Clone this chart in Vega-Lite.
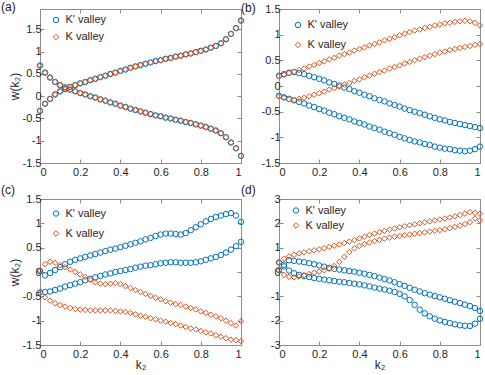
{
"$schema": "https://vega.github.io/schema/vega-lite/v6.json",
"padding": {"left": 0, "top": 0, "right": 0, "bottom": 0},
"background": "white",
"config": {
  "font": "Liberation Sans",
  "view": {"stroke": "#8c8c8c", "strokeWidth": 1},
  "axis": {"grid": false, "domain": false, "labelFont": "Liberation Sans", "labelFontSize": 11, "labelColor": "#262626", "tickColor": "#8c8c8c", "tickSize": -4, "labelPadding": 3, "titleFont": "Liberation Sans", "titleFontSize": 12, "titleFontWeight": "normal", "titleColor": "#262626"},
  "axisX": {"labelPadding": 7},
  "legend": {"title": null, "labelFont": "Liberation Sans", "labelFontSize": 11, "labelColor": "#262626", "symbolSize": 30, "symbolStrokeWidth": 1, "padding": 0, "labelOffset": 4},
  "title": {"font": "Liberation Sans", "fontSize": 12, "fontWeight": "normal", "color": "#1a1a1a"}
},
"datasets": {
"pa": [
{"v":"K'","k":0,"w":0.69},{"v":"K'","k":0.025,"w":0.53},{"v":"K'","k":0.05,"w":0.42},{"v":"K'","k":0.075,"w":0.32},{"v":"K'","k":0.1,"w":0.25},{"v":"K'","k":0.125,"w":0.2},{"v":"K'","k":0.15,"w":0.15},{"v":"K'","k":0.175,"w":0.11},{"v":"K'","k":0.2,"w":0.07},{"v":"K'","k":0.225,"w":0.04},{"v":"K'","k":0.25,"w":0},{"v":"K'","k":0.275,"w":-0.03},{"v":"K'","k":0.3,"w":-0.07},{"v":"K'","k":0.325,"w":-0.1},{"v":"K'","k":0.35,"w":-0.14},{"v":"K'","k":0.375,"w":-0.17},{"v":"K'","k":0.4,"w":-0.21},{"v":"K'","k":0.425,"w":-0.24},{"v":"K'","k":0.45,"w":-0.28},{"v":"K'","k":0.475,"w":-0.31},{"v":"K'","k":0.5,"w":-0.34},{"v":"K'","k":0.525,"w":-0.37},{"v":"K'","k":0.55,"w":-0.4},{"v":"K'","k":0.575,"w":-0.43},{"v":"K'","k":0.6,"w":-0.45},{"v":"K'","k":0.625,"w":-0.48},{"v":"K'","k":0.65,"w":-0.5},{"v":"K'","k":0.675,"w":-0.53},{"v":"K'","k":0.7,"w":-0.55},{"v":"K'","k":0.725,"w":-0.58},{"v":"K'","k":0.75,"w":-0.6},{"v":"K'","k":0.775,"w":-0.63},{"v":"K'","k":0.8,"w":-0.66},{"v":"K'","k":0.825,"w":-0.69},{"v":"K'","k":0.85,"w":-0.73},{"v":"K'","k":0.875,"w":-0.77},{"v":"K'","k":0.9,"w":-0.83},{"v":"K'","k":0.925,"w":-0.92},{"v":"K'","k":0.95,"w":-1.04},{"v":"K'","k":0.975,"w":-1.17},{"v":"K'","k":1,"w":-1.34},
{"v":"K'","k":0,"w":-0.33},{"v":"K'","k":0.025,"w":-0.17},{"v":"K'","k":0.05,"w":-0.06},{"v":"K'","k":0.075,"w":0.04},{"v":"K'","k":0.1,"w":0.11},{"v":"K'","k":0.125,"w":0.16},{"v":"K'","k":0.15,"w":0.21},{"v":"K'","k":0.175,"w":0.25},{"v":"K'","k":0.2,"w":0.29},{"v":"K'","k":0.225,"w":0.32},{"v":"K'","k":0.25,"w":0.36},{"v":"K'","k":0.275,"w":0.39},{"v":"K'","k":0.3,"w":0.43},{"v":"K'","k":0.325,"w":0.46},{"v":"K'","k":0.35,"w":0.5},{"v":"K'","k":0.375,"w":0.53},{"v":"K'","k":0.4,"w":0.57},{"v":"K'","k":0.425,"w":0.6},{"v":"K'","k":0.45,"w":0.64},{"v":"K'","k":0.475,"w":0.67},{"v":"K'","k":0.5,"w":0.7},{"v":"K'","k":0.525,"w":0.73},{"v":"K'","k":0.55,"w":0.76},{"v":"K'","k":0.575,"w":0.79},{"v":"K'","k":0.6,"w":0.81},{"v":"K'","k":0.625,"w":0.84},{"v":"K'","k":0.65,"w":0.86},{"v":"K'","k":0.675,"w":0.89},{"v":"K'","k":0.7,"w":0.91},{"v":"K'","k":0.725,"w":0.94},{"v":"K'","k":0.75,"w":0.96},{"v":"K'","k":0.775,"w":0.99},{"v":"K'","k":0.8,"w":1.02},{"v":"K'","k":0.825,"w":1.05},{"v":"K'","k":0.85,"w":1.09},{"v":"K'","k":0.875,"w":1.13},{"v":"K'","k":0.9,"w":1.19},{"v":"K'","k":0.925,"w":1.28},{"v":"K'","k":0.95,"w":1.4},{"v":"K'","k":0.975,"w":1.53},{"v":"K'","k":1,"w":1.7},
{"v":"K","k":0,"w":0.69},{"v":"K","k":0.025,"w":0.53},{"v":"K","k":0.05,"w":0.42},{"v":"K","k":0.075,"w":0.32},{"v":"K","k":0.1,"w":0.25},{"v":"K","k":0.125,"w":0.2},{"v":"K","k":0.15,"w":0.15},{"v":"K","k":0.175,"w":0.11},{"v":"K","k":0.2,"w":0.07},{"v":"K","k":0.225,"w":0.04},{"v":"K","k":0.25,"w":0},{"v":"K","k":0.275,"w":-0.03},{"v":"K","k":0.3,"w":-0.07},{"v":"K","k":0.325,"w":-0.1},{"v":"K","k":0.35,"w":-0.14},{"v":"K","k":0.375,"w":-0.17},{"v":"K","k":0.4,"w":-0.21},{"v":"K","k":0.425,"w":-0.24},{"v":"K","k":0.45,"w":-0.28},{"v":"K","k":0.475,"w":-0.31},{"v":"K","k":0.5,"w":-0.34},{"v":"K","k":0.525,"w":-0.37},{"v":"K","k":0.55,"w":-0.4},{"v":"K","k":0.575,"w":-0.43},{"v":"K","k":0.6,"w":-0.45},{"v":"K","k":0.625,"w":-0.48},{"v":"K","k":0.65,"w":-0.5},{"v":"K","k":0.675,"w":-0.53},{"v":"K","k":0.7,"w":-0.55},{"v":"K","k":0.725,"w":-0.58},{"v":"K","k":0.75,"w":-0.6},{"v":"K","k":0.775,"w":-0.63},{"v":"K","k":0.8,"w":-0.66},{"v":"K","k":0.825,"w":-0.69},{"v":"K","k":0.85,"w":-0.73},{"v":"K","k":0.875,"w":-0.77},{"v":"K","k":0.9,"w":-0.83},{"v":"K","k":0.925,"w":-0.92},{"v":"K","k":0.95,"w":-1.04},{"v":"K","k":0.975,"w":-1.17},{"v":"K","k":1,"w":-1.34},
{"v":"K","k":0,"w":-0.33},{"v":"K","k":0.025,"w":-0.17},{"v":"K","k":0.05,"w":-0.06},{"v":"K","k":0.075,"w":0.04},{"v":"K","k":0.1,"w":0.11},{"v":"K","k":0.125,"w":0.16},{"v":"K","k":0.15,"w":0.21},{"v":"K","k":0.175,"w":0.25},{"v":"K","k":0.2,"w":0.29},{"v":"K","k":0.225,"w":0.32},{"v":"K","k":0.25,"w":0.36},{"v":"K","k":0.275,"w":0.39},{"v":"K","k":0.3,"w":0.43},{"v":"K","k":0.325,"w":0.46},{"v":"K","k":0.35,"w":0.5},{"v":"K","k":0.375,"w":0.53},{"v":"K","k":0.4,"w":0.57},{"v":"K","k":0.425,"w":0.6},{"v":"K","k":0.45,"w":0.64},{"v":"K","k":0.475,"w":0.67},{"v":"K","k":0.5,"w":0.7},{"v":"K","k":0.525,"w":0.73},{"v":"K","k":0.55,"w":0.76},{"v":"K","k":0.575,"w":0.79},{"v":"K","k":0.6,"w":0.81},{"v":"K","k":0.625,"w":0.84},{"v":"K","k":0.65,"w":0.86},{"v":"K","k":0.675,"w":0.89},{"v":"K","k":0.7,"w":0.91},{"v":"K","k":0.725,"w":0.94},{"v":"K","k":0.75,"w":0.96},{"v":"K","k":0.775,"w":0.99},{"v":"K","k":0.8,"w":1.02},{"v":"K","k":0.825,"w":1.05},{"v":"K","k":0.85,"w":1.09},{"v":"K","k":0.875,"w":1.13},{"v":"K","k":0.9,"w":1.19},{"v":"K","k":0.925,"w":1.28},{"v":"K","k":0.95,"w":1.4},{"v":"K","k":0.975,"w":1.53},{"v":"K","k":1,"w":1.7}
],
"pb": [
{"v":"K'","k":0,"w":0.2},{"v":"K'","k":0.025,"w":0.23},{"v":"K'","k":0.05,"w":0.26},{"v":"K'","k":0.075,"w":0.27},{"v":"K'","k":0.1,"w":0.25},{"v":"K'","k":0.125,"w":0.23},{"v":"K'","k":0.15,"w":0.2},{"v":"K'","k":0.175,"w":0.17},{"v":"K'","k":0.2,"w":0.14},{"v":"K'","k":0.225,"w":0.11},{"v":"K'","k":0.25,"w":0.07},{"v":"K'","k":0.275,"w":0.04},{"v":"K'","k":0.3,"w":0.01},{"v":"K'","k":0.325,"w":-0.03},{"v":"K'","k":0.35,"w":-0.06},{"v":"K'","k":0.375,"w":-0.1},{"v":"K'","k":0.4,"w":-0.13},{"v":"K'","k":0.425,"w":-0.17},{"v":"K'","k":0.45,"w":-0.2},{"v":"K'","k":0.475,"w":-0.24},{"v":"K'","k":0.5,"w":-0.27},{"v":"K'","k":0.525,"w":-0.3},{"v":"K'","k":0.55,"w":-0.34},{"v":"K'","k":0.575,"w":-0.37},{"v":"K'","k":0.6,"w":-0.4},{"v":"K'","k":0.625,"w":-0.44},{"v":"K'","k":0.65,"w":-0.47},{"v":"K'","k":0.675,"w":-0.5},{"v":"K'","k":0.7,"w":-0.53},{"v":"K'","k":0.725,"w":-0.56},{"v":"K'","k":0.75,"w":-0.59},{"v":"K'","k":0.775,"w":-0.62},{"v":"K'","k":0.8,"w":-0.65},{"v":"K'","k":0.825,"w":-0.67},{"v":"K'","k":0.85,"w":-0.7},{"v":"K'","k":0.875,"w":-0.72},{"v":"K'","k":0.9,"w":-0.74},{"v":"K'","k":0.925,"w":-0.76},{"v":"K'","k":0.95,"w":-0.78},{"v":"K'","k":0.975,"w":-0.8},{"v":"K'","k":1,"w":-0.82},
{"v":"K'","k":0,"w":-0.19},{"v":"K'","k":0.025,"w":-0.22},{"v":"K'","k":0.05,"w":-0.25},{"v":"K'","k":0.075,"w":-0.28},{"v":"K'","k":0.1,"w":-0.31},{"v":"K'","k":0.125,"w":-0.34},{"v":"K'","k":0.15,"w":-0.38},{"v":"K'","k":0.175,"w":-0.41},{"v":"K'","k":0.2,"w":-0.45},{"v":"K'","k":0.225,"w":-0.48},{"v":"K'","k":0.25,"w":-0.52},{"v":"K'","k":0.275,"w":-0.55},{"v":"K'","k":0.3,"w":-0.59},{"v":"K'","k":0.325,"w":-0.62},{"v":"K'","k":0.35,"w":-0.65},{"v":"K'","k":0.375,"w":-0.69},{"v":"K'","k":0.4,"w":-0.72},{"v":"K'","k":0.425,"w":-0.75},{"v":"K'","k":0.45,"w":-0.79},{"v":"K'","k":0.475,"w":-0.82},{"v":"K'","k":0.5,"w":-0.85},{"v":"K'","k":0.525,"w":-0.89},{"v":"K'","k":0.55,"w":-0.92},{"v":"K'","k":0.575,"w":-0.95},{"v":"K'","k":0.6,"w":-0.99},{"v":"K'","k":0.625,"w":-1.02},{"v":"K'","k":0.65,"w":-1.05},{"v":"K'","k":0.675,"w":-1.08},{"v":"K'","k":0.7,"w":-1.1},{"v":"K'","k":0.725,"w":-1.13},{"v":"K'","k":0.75,"w":-1.15},{"v":"K'","k":0.775,"w":-1.18},{"v":"K'","k":0.8,"w":-1.2},{"v":"K'","k":0.825,"w":-1.22},{"v":"K'","k":0.85,"w":-1.23},{"v":"K'","k":0.875,"w":-1.25},{"v":"K'","k":0.9,"w":-1.26},{"v":"K'","k":0.925,"w":-1.27},{"v":"K'","k":0.95,"w":-1.26},{"v":"K'","k":0.975,"w":-1.23},{"v":"K'","k":1,"w":-1.18},
{"v":"K","k":0,"w":0.19},{"v":"K","k":0.025,"w":0.22},{"v":"K","k":0.05,"w":0.25},{"v":"K","k":0.075,"w":0.28},{"v":"K","k":0.1,"w":0.31},{"v":"K","k":0.125,"w":0.34},{"v":"K","k":0.15,"w":0.38},{"v":"K","k":0.175,"w":0.41},{"v":"K","k":0.2,"w":0.45},{"v":"K","k":0.225,"w":0.48},{"v":"K","k":0.25,"w":0.52},{"v":"K","k":0.275,"w":0.55},{"v":"K","k":0.3,"w":0.59},{"v":"K","k":0.325,"w":0.62},{"v":"K","k":0.35,"w":0.65},{"v":"K","k":0.375,"w":0.69},{"v":"K","k":0.4,"w":0.72},{"v":"K","k":0.425,"w":0.75},{"v":"K","k":0.45,"w":0.79},{"v":"K","k":0.475,"w":0.82},{"v":"K","k":0.5,"w":0.85},{"v":"K","k":0.525,"w":0.89},{"v":"K","k":0.55,"w":0.92},{"v":"K","k":0.575,"w":0.95},{"v":"K","k":0.6,"w":0.99},{"v":"K","k":0.625,"w":1.02},{"v":"K","k":0.65,"w":1.05},{"v":"K","k":0.675,"w":1.08},{"v":"K","k":0.7,"w":1.1},{"v":"K","k":0.725,"w":1.13},{"v":"K","k":0.75,"w":1.15},{"v":"K","k":0.775,"w":1.18},{"v":"K","k":0.8,"w":1.2},{"v":"K","k":0.825,"w":1.22},{"v":"K","k":0.85,"w":1.23},{"v":"K","k":0.875,"w":1.25},{"v":"K","k":0.9,"w":1.26},{"v":"K","k":0.925,"w":1.27},{"v":"K","k":0.95,"w":1.26},{"v":"K","k":0.975,"w":1.23},{"v":"K","k":1,"w":1.18},
{"v":"K","k":0,"w":-0.2},{"v":"K","k":0.025,"w":-0.23},{"v":"K","k":0.05,"w":-0.26},{"v":"K","k":0.075,"w":-0.27},{"v":"K","k":0.1,"w":-0.25},{"v":"K","k":0.125,"w":-0.23},{"v":"K","k":0.15,"w":-0.2},{"v":"K","k":0.175,"w":-0.17},{"v":"K","k":0.2,"w":-0.14},{"v":"K","k":0.225,"w":-0.11},{"v":"K","k":0.25,"w":-0.07},{"v":"K","k":0.275,"w":-0.04},{"v":"K","k":0.3,"w":-0.01},{"v":"K","k":0.325,"w":0.03},{"v":"K","k":0.35,"w":0.06},{"v":"K","k":0.375,"w":0.1},{"v":"K","k":0.4,"w":0.13},{"v":"K","k":0.425,"w":0.17},{"v":"K","k":0.45,"w":0.2},{"v":"K","k":0.475,"w":0.24},{"v":"K","k":0.5,"w":0.27},{"v":"K","k":0.525,"w":0.3},{"v":"K","k":0.55,"w":0.34},{"v":"K","k":0.575,"w":0.37},{"v":"K","k":0.6,"w":0.4},{"v":"K","k":0.625,"w":0.44},{"v":"K","k":0.65,"w":0.47},{"v":"K","k":0.675,"w":0.5},{"v":"K","k":0.7,"w":0.53},{"v":"K","k":0.725,"w":0.56},{"v":"K","k":0.75,"w":0.59},{"v":"K","k":0.775,"w":0.62},{"v":"K","k":0.8,"w":0.65},{"v":"K","k":0.825,"w":0.67},{"v":"K","k":0.85,"w":0.7},{"v":"K","k":0.875,"w":0.72},{"v":"K","k":0.9,"w":0.74},{"v":"K","k":0.925,"w":0.76},{"v":"K","k":0.95,"w":0.78},{"v":"K","k":0.975,"w":0.8},{"v":"K","k":1,"w":0.82}
],
"pc": [
{"v":"K'","k":0,"w":0.02},{"v":"K'","k":0.025,"w":-0.07},{"v":"K'","k":0.05,"w":-0.02},{"v":"K'","k":0.075,"w":0.04},{"v":"K'","k":0.1,"w":0.1},{"v":"K'","k":0.125,"w":0.16},{"v":"K'","k":0.15,"w":0.21},{"v":"K'","k":0.175,"w":0.25},{"v":"K'","k":0.2,"w":0.28},{"v":"K'","k":0.225,"w":0.31},{"v":"K'","k":0.25,"w":0.34},{"v":"K'","k":0.275,"w":0.37},{"v":"K'","k":0.3,"w":0.4},{"v":"K'","k":0.325,"w":0.43},{"v":"K'","k":0.35,"w":0.46},{"v":"K'","k":0.375,"w":0.48},{"v":"K'","k":0.4,"w":0.51},{"v":"K'","k":0.425,"w":0.54},{"v":"K'","k":0.45,"w":0.57},{"v":"K'","k":0.475,"w":0.6},{"v":"K'","k":0.5,"w":0.63},{"v":"K'","k":0.525,"w":0.67},{"v":"K'","k":0.55,"w":0.7},{"v":"K'","k":0.575,"w":0.74},{"v":"K'","k":0.6,"w":0.77},{"v":"K'","k":0.625,"w":0.79},{"v":"K'","k":0.65,"w":0.79},{"v":"K'","k":0.675,"w":0.78},{"v":"K'","k":0.7,"w":0.77},{"v":"K'","k":0.725,"w":0.8},{"v":"K'","k":0.75,"w":0.86},{"v":"K'","k":0.775,"w":0.92},{"v":"K'","k":0.8,"w":0.98},{"v":"K'","k":0.825,"w":1.04},{"v":"K'","k":0.85,"w":1.09},{"v":"K'","k":0.875,"w":1.13},{"v":"K'","k":0.9,"w":1.16},{"v":"K'","k":0.925,"w":1.19},{"v":"K'","k":0.95,"w":1.21},{"v":"K'","k":0.975,"w":1.16},{"v":"K'","k":1,"w":1.03},
{"v":"K'","k":0,"w":-0.42},{"v":"K'","k":0.025,"w":-0.41},{"v":"K'","k":0.05,"w":-0.4},{"v":"K'","k":0.075,"w":-0.37},{"v":"K'","k":0.1,"w":-0.34},{"v":"K'","k":0.125,"w":-0.3},{"v":"K'","k":0.15,"w":-0.27},{"v":"K'","k":0.175,"w":-0.24},{"v":"K'","k":0.2,"w":-0.21},{"v":"K'","k":0.225,"w":-0.17},{"v":"K'","k":0.25,"w":-0.14},{"v":"K'","k":0.275,"w":-0.11},{"v":"K'","k":0.3,"w":-0.08},{"v":"K'","k":0.325,"w":-0.05},{"v":"K'","k":0.35,"w":-0.03},{"v":"K'","k":0.375,"w":0},{"v":"K'","k":0.4,"w":0.02},{"v":"K'","k":0.425,"w":0.04},{"v":"K'","k":0.45,"w":0.06},{"v":"K'","k":0.475,"w":0.09},{"v":"K'","k":0.5,"w":0.11},{"v":"K'","k":0.525,"w":0.13},{"v":"K'","k":0.55,"w":0.14},{"v":"K'","k":0.575,"w":0.16},{"v":"K'","k":0.6,"w":0.18},{"v":"K'","k":0.625,"w":0.19},{"v":"K'","k":0.65,"w":0.2},{"v":"K'","k":0.675,"w":0.2},{"v":"K'","k":0.7,"w":0.19},{"v":"K'","k":0.725,"w":0.19},{"v":"K'","k":0.75,"w":0.19},{"v":"K'","k":0.775,"w":0.2},{"v":"K'","k":0.8,"w":0.22},{"v":"K'","k":0.825,"w":0.25},{"v":"K'","k":0.85,"w":0.28},{"v":"K'","k":0.875,"w":0.31},{"v":"K'","k":0.9,"w":0.35},{"v":"K'","k":0.925,"w":0.4},{"v":"K'","k":0.95,"w":0.46},{"v":"K'","k":0.975,"w":0.53},{"v":"K'","k":1,"w":0.62},
{"v":"K","k":0,"w":0.03},{"v":"K","k":0.025,"w":0.16},{"v":"K","k":0.05,"w":0.21},{"v":"K","k":0.075,"w":0.19},{"v":"K","k":0.1,"w":0.14},{"v":"K","k":0.125,"w":0.1},{"v":"K","k":0.15,"w":0.05},{"v":"K","k":0.175,"w":0},{"v":"K","k":0.2,"w":-0.05},{"v":"K","k":0.225,"w":-0.1},{"v":"K","k":0.25,"w":-0.16},{"v":"K","k":0.275,"w":-0.21},{"v":"K","k":0.3,"w":-0.24},{"v":"K","k":0.325,"w":-0.25},{"v":"K","k":0.35,"w":-0.24},{"v":"K","k":0.375,"w":-0.23},{"v":"K","k":0.4,"w":-0.25},{"v":"K","k":0.425,"w":-0.29},{"v":"K","k":0.45,"w":-0.33},{"v":"K","k":0.475,"w":-0.37},{"v":"K","k":0.5,"w":-0.41},{"v":"K","k":0.525,"w":-0.45},{"v":"K","k":0.55,"w":-0.49},{"v":"K","k":0.575,"w":-0.53},{"v":"K","k":0.6,"w":-0.56},{"v":"K","k":0.625,"w":-0.6},{"v":"K","k":0.65,"w":-0.63},{"v":"K","k":0.675,"w":-0.66},{"v":"K","k":0.7,"w":-0.68},{"v":"K","k":0.725,"w":-0.71},{"v":"K","k":0.75,"w":-0.74},{"v":"K","k":0.775,"w":-0.77},{"v":"K","k":0.8,"w":-0.81},{"v":"K","k":0.825,"w":-0.84},{"v":"K","k":0.85,"w":-0.88},{"v":"K","k":0.875,"w":-0.91},{"v":"K","k":0.9,"w":-0.95},{"v":"K","k":0.925,"w":-1},{"v":"K","k":0.95,"w":-1.05},{"v":"K","k":0.975,"w":-1.1},{"v":"K","k":1,"w":-1.01},
{"v":"K","k":0,"w":-0.43},{"v":"K","k":0.025,"w":-0.52},{"v":"K","k":0.05,"w":-0.59},{"v":"K","k":0.075,"w":-0.64},{"v":"K","k":0.1,"w":-0.68},{"v":"K","k":0.125,"w":-0.71},{"v":"K","k":0.15,"w":-0.74},{"v":"K","k":0.175,"w":-0.76},{"v":"K","k":0.2,"w":-0.77},{"v":"K","k":0.225,"w":-0.78},{"v":"K","k":0.25,"w":-0.79},{"v":"K","k":0.275,"w":-0.79},{"v":"K","k":0.3,"w":-0.79},{"v":"K","k":0.325,"w":-0.79},{"v":"K","k":0.35,"w":-0.79},{"v":"K","k":0.375,"w":-0.8},{"v":"K","k":0.4,"w":-0.81},{"v":"K","k":0.425,"w":-0.82},{"v":"K","k":0.45,"w":-0.84},{"v":"K","k":0.475,"w":-0.87},{"v":"K","k":0.5,"w":-0.9},{"v":"K","k":0.525,"w":-0.92},{"v":"K","k":0.55,"w":-0.95},{"v":"K","k":0.575,"w":-0.97},{"v":"K","k":0.6,"w":-1},{"v":"K","k":0.625,"w":-1.02},{"v":"K","k":0.65,"w":-1.05},{"v":"K","k":0.675,"w":-1.07},{"v":"K","k":0.7,"w":-1.1},{"v":"K","k":0.725,"w":-1.13},{"v":"K","k":0.75,"w":-1.16},{"v":"K","k":0.775,"w":-1.18},{"v":"K","k":0.8,"w":-1.21},{"v":"K","k":0.825,"w":-1.24},{"v":"K","k":0.85,"w":-1.26},{"v":"K","k":0.875,"w":-1.3},{"v":"K","k":0.9,"w":-1.33},{"v":"K","k":0.925,"w":-1.36},{"v":"K","k":0.95,"w":-1.39},{"v":"K","k":0.975,"w":-1.4},{"v":"K","k":1,"w":-1.42}
],
"pd": [
{"v":"K'","k":0,"w":0.08},{"v":"K'","k":0.025,"w":0.3},{"v":"K'","k":0.05,"w":0.48},{"v":"K'","k":0.075,"w":0.46},{"v":"K'","k":0.1,"w":0.43},{"v":"K'","k":0.125,"w":0.4},{"v":"K'","k":0.15,"w":0.36},{"v":"K'","k":0.175,"w":0.32},{"v":"K'","k":0.2,"w":0.27},{"v":"K'","k":0.225,"w":0.22},{"v":"K'","k":0.25,"w":0.17},{"v":"K'","k":0.275,"w":0.13},{"v":"K'","k":0.3,"w":0.1},{"v":"K'","k":0.325,"w":0.07},{"v":"K'","k":0.35,"w":0.04},{"v":"K'","k":0.375,"w":0.01},{"v":"K'","k":0.4,"w":-0.03},{"v":"K'","k":0.425,"w":-0.07},{"v":"K'","k":0.45,"w":-0.12},{"v":"K'","k":0.475,"w":-0.17},{"v":"K'","k":0.5,"w":-0.23},{"v":"K'","k":0.525,"w":-0.29},{"v":"K'","k":0.55,"w":-0.35},{"v":"K'","k":0.575,"w":-0.42},{"v":"K'","k":0.6,"w":-0.5},{"v":"K'","k":0.625,"w":-0.57},{"v":"K'","k":0.65,"w":-0.65},{"v":"K'","k":0.675,"w":-0.73},{"v":"K'","k":0.7,"w":-0.8},{"v":"K'","k":0.725,"w":-0.87},{"v":"K'","k":0.75,"w":-0.93},{"v":"K'","k":0.775,"w":-0.99},{"v":"K'","k":0.8,"w":-1.04},{"v":"K'","k":0.825,"w":-1.1},{"v":"K'","k":0.85,"w":-1.16},{"v":"K'","k":0.875,"w":-1.22},{"v":"K'","k":0.9,"w":-1.28},{"v":"K'","k":0.925,"w":-1.34},{"v":"K'","k":0.95,"w":-1.4},{"v":"K'","k":0.975,"w":-1.48},{"v":"K'","k":1,"w":-1.6},
{"v":"K'","k":0,"w":0.39},{"v":"K'","k":0.025,"w":0.23},{"v":"K'","k":0.05,"w":0.06},{"v":"K'","k":0.075,"w":-0.05},{"v":"K'","k":0.1,"w":-0.12},{"v":"K'","k":0.125,"w":-0.17},{"v":"K'","k":0.15,"w":-0.21},{"v":"K'","k":0.175,"w":-0.25},{"v":"K'","k":0.2,"w":-0.28},{"v":"K'","k":0.225,"w":-0.31},{"v":"K'","k":0.25,"w":-0.34},{"v":"K'","k":0.275,"w":-0.37},{"v":"K'","k":0.3,"w":-0.4},{"v":"K'","k":0.325,"w":-0.42},{"v":"K'","k":0.35,"w":-0.45},{"v":"K'","k":0.375,"w":-0.48},{"v":"K'","k":0.4,"w":-0.51},{"v":"K'","k":0.425,"w":-0.55},{"v":"K'","k":0.45,"w":-0.59},{"v":"K'","k":0.475,"w":-0.64},{"v":"K'","k":0.5,"w":-0.68},{"v":"K'","k":0.525,"w":-0.72},{"v":"K'","k":0.55,"w":-0.77},{"v":"K'","k":0.575,"w":-0.82},{"v":"K'","k":0.6,"w":-0.9},{"v":"K'","k":0.625,"w":-1},{"v":"K'","k":0.65,"w":-1.15},{"v":"K'","k":0.675,"w":-1.35},{"v":"K'","k":0.7,"w":-1.55},{"v":"K'","k":0.725,"w":-1.7},{"v":"K'","k":0.75,"w":-1.82},{"v":"K'","k":0.775,"w":-1.92},{"v":"K'","k":0.8,"w":-1.99},{"v":"K'","k":0.825,"w":-2.05},{"v":"K'","k":0.85,"w":-2.1},{"v":"K'","k":0.875,"w":-2.15},{"v":"K'","k":0.9,"w":-2.19},{"v":"K'","k":0.925,"w":-2.21},{"v":"K'","k":0.95,"w":-2.22},{"v":"K'","k":0.975,"w":-2.12},{"v":"K'","k":1,"w":-1.92},
{"v":"K","k":0,"w":0.39},{"v":"K","k":0.025,"w":0.55},{"v":"K","k":0.05,"w":0.64},{"v":"K","k":0.075,"w":0.71},{"v":"K","k":0.1,"w":0.77},{"v":"K","k":0.125,"w":0.81},{"v":"K","k":0.15,"w":0.85},{"v":"K","k":0.175,"w":0.89},{"v":"K","k":0.2,"w":0.93},{"v":"K","k":0.225,"w":0.98},{"v":"K","k":0.25,"w":1.03},{"v":"K","k":0.275,"w":1.08},{"v":"K","k":0.3,"w":1.13},{"v":"K","k":0.325,"w":1.19},{"v":"K","k":0.35,"w":1.25},{"v":"K","k":0.375,"w":1.31},{"v":"K","k":0.4,"w":1.38},{"v":"K","k":0.425,"w":1.45},{"v":"K","k":0.45,"w":1.52},{"v":"K","k":0.475,"w":1.58},{"v":"K","k":0.5,"w":1.64},{"v":"K","k":0.525,"w":1.69},{"v":"K","k":0.55,"w":1.74},{"v":"K","k":0.575,"w":1.79},{"v":"K","k":0.6,"w":1.84},{"v":"K","k":0.625,"w":1.88},{"v":"K","k":0.65,"w":1.92},{"v":"K","k":0.675,"w":1.96},{"v":"K","k":0.7,"w":2},{"v":"K","k":0.725,"w":2.04},{"v":"K","k":0.75,"w":2.08},{"v":"K","k":0.775,"w":2.12},{"v":"K","k":0.8,"w":2.16},{"v":"K","k":0.825,"w":2.2},{"v":"K","k":0.85,"w":2.24},{"v":"K","k":0.875,"w":2.29},{"v":"K","k":0.9,"w":2.34},{"v":"K","k":0.925,"w":2.4},{"v":"K","k":0.95,"w":2.46},{"v":"K","k":0.975,"w":2.43},{"v":"K","k":1,"w":2.4},
{"v":"K","k":0,"w":0.08},{"v":"K","k":0.025,"w":-0.12},{"v":"K","k":0.05,"w":-0.2},{"v":"K","k":0.075,"w":-0.22},{"v":"K","k":0.1,"w":-0.18},{"v":"K","k":0.125,"w":-0.13},{"v":"K","k":0.15,"w":-0.08},{"v":"K","k":0.175,"w":-0.03},{"v":"K","k":0.2,"w":0.02},{"v":"K","k":0.225,"w":0.07},{"v":"K","k":0.25,"w":0.13},{"v":"K","k":0.275,"w":0.25},{"v":"K","k":0.3,"w":0.42},{"v":"K","k":0.325,"w":0.62},{"v":"K","k":0.35,"w":0.82},{"v":"K","k":0.375,"w":0.97},{"v":"K","k":0.4,"w":1.07},{"v":"K","k":0.425,"w":1.15},{"v":"K","k":0.45,"w":1.21},{"v":"K","k":0.475,"w":1.27},{"v":"K","k":0.5,"w":1.32},{"v":"K","k":0.525,"w":1.37},{"v":"K","k":0.55,"w":1.41},{"v":"K","k":0.575,"w":1.45},{"v":"K","k":0.6,"w":1.48},{"v":"K","k":0.625,"w":1.51},{"v":"K","k":0.65,"w":1.54},{"v":"K","k":0.675,"w":1.57},{"v":"K","k":0.7,"w":1.6},{"v":"K","k":0.725,"w":1.63},{"v":"K","k":0.75,"w":1.66},{"v":"K","k":0.775,"w":1.69},{"v":"K","k":0.8,"w":1.72},{"v":"K","k":0.825,"w":1.76},{"v":"K","k":0.85,"w":1.8},{"v":"K","k":0.875,"w":1.85},{"v":"K","k":0.9,"w":1.91},{"v":"K","k":0.925,"w":1.97},{"v":"K","k":0.95,"w":2.05},{"v":"K","k":0.975,"w":2.2},{"v":"K","k":1,"w":2.12}
]
},
"columns": 2,
"spacing": {"row": 36, "column": 38},
"bounds": "flush",
"resolve": {"scale": {"x": "independent", "y": "independent", "color": "independent", "shape": "independent"}},
"concat": [
  {"width": 201, "height": 154, "data": {"name": "pa"},
   "title": {"text": "(a)", "anchor": "start", "frame": "group", "dx": -39, "offset": -5, "baseline": "top"},
   "layer": [
    {"mark": {"type": "point", "filled": false, "size": 30, "strokeWidth": 1, "opacity": 1},
     "encoding": {
      "x": {"field": "k", "type": "quantitative", "scale": {"domain": [0, 1], "nice": false}, "axis": {"values": [0, 0.2, 0.4, 0.6, 0.8, 1], "labelExpr": "datum.value + ''", "title": null}},
      "y": {"field": "w", "type": "quantitative", "scale": {"domain": [-1.5, 1.96], "nice": false, "zero": false}, "axis": {"values": [-1.5, -1, -0.5, 0, 0.5, 1, 1.5], "labelExpr": "datum.value + ''", "title": "w(k₂)", "titlePadding": 1}},
      "color": {"field": "v", "type": "nominal", "scale": {"domain": ["K'", "K"], "range": ["#0072BD", "#D95319"]}, "legend": {"orient": "none", "legendX": 10.5, "legendY": 5.5, "rowPadding": 5, "labelExpr": "datum.label + ' valley'"}},
      "shape": {"field": "v", "type": "nominal", "scale": {"domain": ["K'", "K"], "range": ["circle", "diamond"]}, "legend": {"orient": "none", "legendX": 10.5, "legendY": 5.5, "rowPadding": 5, "labelExpr": "datum.label + ' valley'"}}
     }},
    {"mark": {"type": "point", "opacity": 0},
     "encoding": {
      "x": {"field": "k", "type": "quantitative", "axis": {"orient": "top", "values": [0, 0.2, 0.4, 0.6, 0.8, 1], "labels": false, "title": null}},
      "y": {"field": "w", "type": "quantitative", "axis": {"orient": "right", "values": [-1.5, -1, -0.5, 0, 0.5, 1, 1.5], "labels": false, "title": null}}
     }}
   ],
   "resolve": {"axis": {"x": "independent", "y": "independent"}}
  },
  {"width": 201, "height": 154, "data": {"name": "pb"},
   "title": {"text": "(b)", "anchor": "start", "frame": "group", "dx": -38, "offset": -12, "baseline": "top"},
   "layer": [
    {"mark": {"type": "point", "filled": false, "size": 30, "strokeWidth": 1, "opacity": 1},
     "encoding": {
      "x": {"field": "k", "type": "quantitative", "scale": {"domain": [0, 1], "nice": false}, "axis": {"values": [0, 0.2, 0.4, 0.6, 0.8, 1], "labelExpr": "datum.value + ''", "title": null}},
      "y": {"field": "w", "type": "quantitative", "scale": {"domain": [-1.5, 1.5], "nice": false, "zero": false}, "axis": {"values": [-1.5, -1, -0.5, 0, 0.5, 1, 1.5], "labelExpr": "datum.value + ''", "title": null}},
      "color": {"field": "v", "type": "nominal", "scale": {"domain": ["K'", "K"], "range": ["#0072BD", "#D95319"]}, "legend": {"orient": "none", "legendX": 13.5, "legendY": 10.5, "rowPadding": 8, "labelExpr": "datum.label + ' valley'"}},
      "shape": {"field": "v", "type": "nominal", "scale": {"domain": ["K'", "K"], "range": ["circle", "diamond"]}, "legend": {"orient": "none", "legendX": 13.5, "legendY": 10.5, "rowPadding": 8, "labelExpr": "datum.label + ' valley'"}}
     }},
    {"mark": {"type": "point", "opacity": 0},
     "encoding": {
      "x": {"field": "k", "type": "quantitative", "axis": {"orient": "top", "values": [0, 0.2, 0.4, 0.6, 0.8, 1], "labels": false, "title": null}},
      "y": {"field": "w", "type": "quantitative", "axis": {"orient": "right", "values": [-1.5, -1, -0.5, 0, 0.5, 1, 1.5], "labels": false, "title": null}}
     }}
   ],
   "resolve": {"axis": {"x": "independent", "y": "independent"}}
  },
  {"width": 201, "height": 146, "data": {"name": "pc"},
   "title": {"text": "(c)", "anchor": "start", "frame": "group", "dx": -39, "offset": -4, "baseline": "top"},
   "layer": [
    {"mark": {"type": "point", "filled": false, "size": 30, "strokeWidth": 1, "opacity": 1},
     "encoding": {
      "x": {"field": "k", "type": "quantitative", "scale": {"domain": [0, 1], "nice": false}, "axis": {"values": [0, 0.2, 0.4, 0.6, 0.8, 1], "labelExpr": "datum.value + ''", "title": "k₂", "titlePadding": 0}},
      "y": {"field": "w", "type": "quantitative", "scale": {"domain": [-1.5, 1.5], "nice": false, "zero": false}, "axis": {"values": [-1.5, -1, -0.5, 0, 0.5, 1, 1.5], "labelExpr": "datum.value + ''", "title": "w(k₂)", "titlePadding": 1}},
      "color": {"field": "v", "type": "nominal", "scale": {"domain": ["K'", "K"], "range": ["#0072BD", "#D95319"]}, "legend": {"orient": "none", "legendX": 10.5, "legendY": 9, "rowPadding": 8, "labelExpr": "datum.label + ' valley'"}},
      "shape": {"field": "v", "type": "nominal", "scale": {"domain": ["K'", "K"], "range": ["circle", "diamond"]}, "legend": {"orient": "none", "legendX": 10.5, "legendY": 9, "rowPadding": 8, "labelExpr": "datum.label + ' valley'"}}
     }},
    {"mark": {"type": "point", "opacity": 0},
     "encoding": {
      "x": {"field": "k", "type": "quantitative", "axis": {"orient": "top", "values": [0, 0.2, 0.4, 0.6, 0.8, 1], "labels": false, "title": null}},
      "y": {"field": "w", "type": "quantitative", "axis": {"orient": "right", "values": [-1.5, -1, -0.5, 0, 0.5, 1, 1.5], "labels": false, "title": null}}
     }}
   ],
   "resolve": {"axis": {"x": "independent", "y": "independent"}}
  },
  {"width": 201, "height": 146, "data": {"name": "pd"},
   "title": {"text": "(d)", "anchor": "start", "frame": "group", "dx": -38, "offset": -4, "baseline": "top"},
   "layer": [
    {"mark": {"type": "point", "filled": false, "size": 30, "strokeWidth": 1, "opacity": 1},
     "encoding": {
      "x": {"field": "k", "type": "quantitative", "scale": {"domain": [0, 1], "nice": false}, "axis": {"values": [0, 0.2, 0.4, 0.6, 0.8, 1], "labelExpr": "datum.value + ''", "title": "k₂", "titlePadding": 0}},
      "y": {"field": "w", "type": "quantitative", "scale": {"domain": [-3, 3], "nice": false, "zero": false}, "axis": {"values": [-3, -2, -1, 0, 1, 2, 3], "labelExpr": "datum.value + ''", "title": null}},
      "color": {"field": "v", "type": "nominal", "scale": {"domain": ["K'", "K"], "range": ["#0072BD", "#D95319"]}, "legend": {"orient": "none", "legendX": 11.5, "legendY": 6, "rowPadding": 3, "labelExpr": "datum.label + ' valley'"}},
      "shape": {"field": "v", "type": "nominal", "scale": {"domain": ["K'", "K"], "range": ["circle", "diamond"]}, "legend": {"orient": "none", "legendX": 11.5, "legendY": 6, "rowPadding": 3, "labelExpr": "datum.label + ' valley'"}}
     }},
    {"mark": {"type": "point", "opacity": 0},
     "encoding": {
      "x": {"field": "k", "type": "quantitative", "axis": {"orient": "top", "values": [0, 0.2, 0.4, 0.6, 0.8, 1], "labels": false, "title": null}},
      "y": {"field": "w", "type": "quantitative", "axis": {"orient": "right", "values": [-3, -2, -1, 0, 1, 2, 3], "labels": false, "title": null}}
     }}
   ],
   "resolve": {"axis": {"x": "independent", "y": "independent"}}
  }
]
}
